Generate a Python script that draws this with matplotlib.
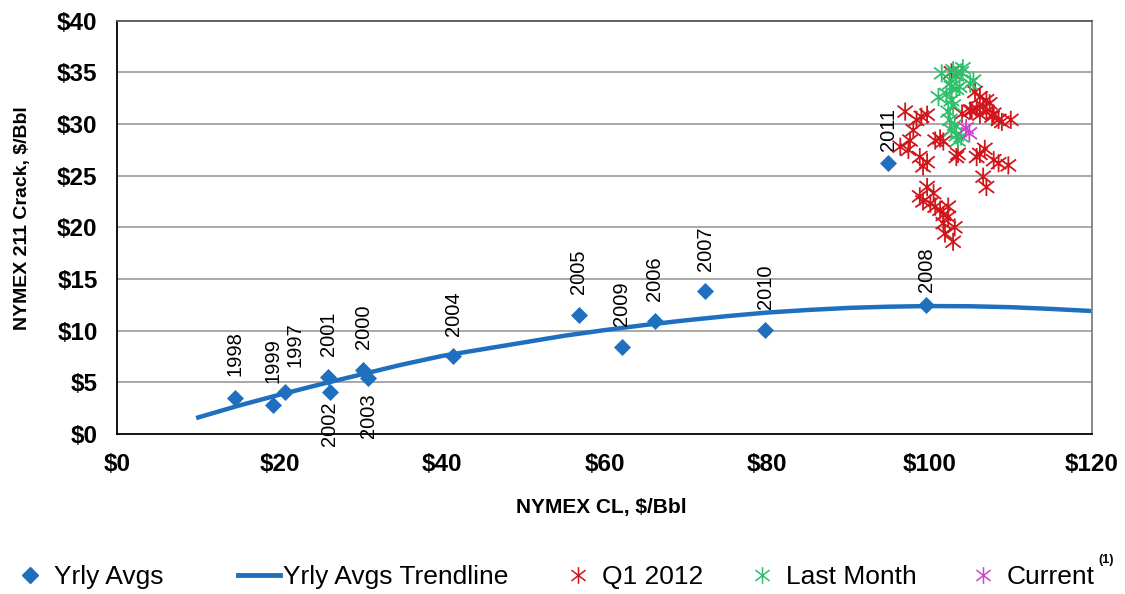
import matplotlib
matplotlib.use("Agg")
import matplotlib.pyplot as plt
from matplotlib.lines import Line2D
from matplotlib.path import Path

plt.rcParams['font.family'] = ['Liberation Sans', 'DejaVu Sans']

# yearly averages: (crude $/bbl, crack $/bbl)
years = ["1998", "1999", "1997", "2001", "2002", "2000", "2003", "2004",
         "2005", "2009", "2006", "2007", "2010", "2008", "2011"]
yr_x = [14.5, 19.2, 20.7, 26.0, 26.2, 30.3, 30.9, 41.4,
        56.8, 62.1, 66.2, 72.4, 79.8, 99.6, 94.9]
yr_y = [3.45, 2.8, 4.1, 5.5, 4.1, 6.2, 5.4, 7.5,
        11.5, 8.4, 10.9, 13.8, 10.1, 12.5, 26.2]

# trendline
trend_x = [10, 15, 20, 25, 30, 35, 40, 45, 50, 55, 60, 65, 70, 75, 80,
           85, 90, 95, 100, 105, 110, 115, 120]
trend_y = [1.6, 2.75, 3.8, 4.8, 5.75, 6.7, 7.55, 8.2, 8.85, 9.5, 10.05,
           10.55, 11.0, 11.4, 11.75, 12.0, 12.2, 12.32, 12.38, 12.36,
           12.27, 12.1, 11.9]

q1_x = [102.7, 105.6, 106.2, 107.0, 107.4, 106.6, 105.8, 105.0, 106.2, 107.0,
        107.9, 108.5, 108.9, 107.7, 105.2, 97.0, 98.4, 99.0, 99.7, 98.0,
        97.6, 96.4, 97.4, 98.8, 99.7, 99.2, 100.7, 101.3, 101.7, 103.3,
        103.5, 105.8, 106.2, 107.9, 108.5, 109.7, 106.6, 107.0, 106.8, 99.7,
        98.8, 99.2, 100.1, 100.7, 101.3, 101.7, 102.3, 101.7, 103.1, 101.9,
        102.9, 100.5, 110.0, 104.0, 102.3]
q1_y = [35.0, 33.1, 32.6, 32.3, 32.0, 31.7, 31.5, 31.3, 30.9, 31.2,
        31.0, 30.4, 30.2, 30.7, 31.3, 31.2, 30.4, 30.7, 30.9, 29.4,
        28.4, 27.8, 27.5, 26.8, 26.3, 25.9, 28.4, 28.6, 28.3, 26.8,
        27.1, 26.8, 27.1, 26.5, 26.2, 26.0, 24.9, 23.9, 27.6, 23.9,
        23.0, 22.5, 22.3, 22.0, 21.7, 21.2, 21.0, 20.4, 20.0, 19.4,
        18.6, 23.3, 30.4, 31.0, 22.0]

lm_x = [101.5, 102.9, 103.9, 104.1, 103.3, 102.5, 102.7, 103.3, 103.7, 101.1,
        102.1, 102.7, 102.9, 102.3, 102.5, 103.1, 102.7, 103.3, 103.9, 103.5,
        105.4, 105.0]
lm_y = [34.9, 35.2, 35.0, 35.4, 34.7, 33.9, 33.6, 33.4, 33.6, 32.6,
        32.9, 32.3, 31.8, 31.2, 30.4, 29.9, 29.4, 28.9, 28.8, 28.4,
        34.2, 33.9]

cur_x = [104.5, 104.9]
cur_y = [29.6, 29.1]

xticks = [0, 20, 40, 60, 80, 100, 120]
yticks = [0, 5, 10, 15, 20, 25, 30, 35, 40]

blue = "#1f6fbf"
red = "#d0161c"
green = "#2fbf6a"
magenta = "#cc44cc"

# Excel style asterisk: vertical bar plus an X
star = Path([(0, -1), (0, 1), (-0.85, -0.65), (0.85, 0.65), (-0.85, 0.65), (0.85, -0.65)],
            [Path.MOVETO, Path.LINETO, Path.MOVETO, Path.LINETO, Path.MOVETO, Path.LINETO])

# label offsets in points (dx, dy); negative dy means below the point
label_off = {"2002": (0, -7), "2003": (0, -11), "2008": (0, 9), "2011": (0, 9),
             "1997": (7, 18), "1998": (0, 16), "1999": (0, 16)}

fig = plt.figure(figsize=(11.25, 5.94), dpi=100)
ax = fig.add_axes([0.104, 0.2694, 0.8667, 0.6958])

for yv in yticks[1:-1]:
    ax.axhline(yv, color="#999999", lw=1.2, zorder=0)

ax.plot(trend_x, trend_y, color=blue, lw=3.2, zorder=2)
ax.scatter(yr_x, yr_y, marker="D", s=75, color=blue, zorder=3, linewidths=0)
ax.scatter(q1_x, q1_y, marker=star, s=170, facecolor="none", edgecolors=red, linewidths=1.3, zorder=4)
ax.scatter(lm_x, lm_y, marker=star, s=170, facecolor="none", edgecolors=green, linewidths=1.3, zorder=5)
ax.scatter(cur_x, cur_y, marker=star, s=170, facecolor="none", edgecolors=magenta, linewidths=1.3, zorder=6)

for lab, xv, yv in zip(years, yr_x, yr_y):
    dx, dy = label_off.get(lab, (0, 15))
    ax.annotate(lab, (xv, yv), xytext=(dx, dy), textcoords="offset points",
                rotation=90, ha="center", va="top" if dy < 0 else "bottom",
                fontsize=14.5)

ax.set_xlim(0, 120)
ax.set_ylim(0, 40)
ax.set_xticks(xticks)
ax.set_yticks(yticks)
ax.set_xticklabels(["$%d" % v for v in xticks], fontsize=17.5, fontweight="bold")
ax.set_yticklabels(["$%d" % v for v in yticks], fontsize=17.5, fontweight="bold")
ax.tick_params(axis="x", length=0, pad=14)
ax.tick_params(axis="y", length=0, pad=14)
ax.set_xlabel("NYMEX CL, $/Bbl", fontsize=15, fontweight="bold", va="center")
ax.set_ylabel("NYMEX 211 Crack, $/Bbl", fontsize=14, fontweight="bold", va="center")
ax.xaxis.set_label_coords(0.497, -0.177)
ax.yaxis.set_label_coords(-0.0974, 0.523)

ax.spines["left"].set_color("black")
ax.spines["bottom"].set_color("black")
ax.spines["top"].set_color("#555555")
ax.spines["right"].set_color("#808080")
for s in ax.spines.values():
    s.set_linewidth(1.3)

handles = [
    Line2D([], [], marker="D", color=blue, ls="none", markersize=8),
    Line2D([], [], color=blue, lw=3.5),
    Line2D([], [], marker=star, color=red, ls="none", markersize=12, mew=1.1),
    Line2D([], [], marker=star, color=green, ls="none", markersize=12, mew=1.1),
    Line2D([], [], marker=star, color=magenta, ls="none", markersize=12, mew=1.1),
]
labels = ["Yrly Avgs", "Yrly Avgs Trendline", "Q1 2012", "Last Month", "Current"]
starts = [9, 238, 557, 741, 962]
for h, lab, x0 in zip(handles, labels, starts):
    fig.legend([h], [lab], loc="center left", bbox_to_anchor=(x0 / 1125, 0.029),
               frameon=False, fontsize=19, handlelength=1.6, handletextpad=0.1,
               borderpad=0, borderaxespad=0)
fig.text(0.983, 0.052, "(1)", fontsize=9, fontweight="bold", ha="center")

fig.savefig("out.png", dpi=100)
